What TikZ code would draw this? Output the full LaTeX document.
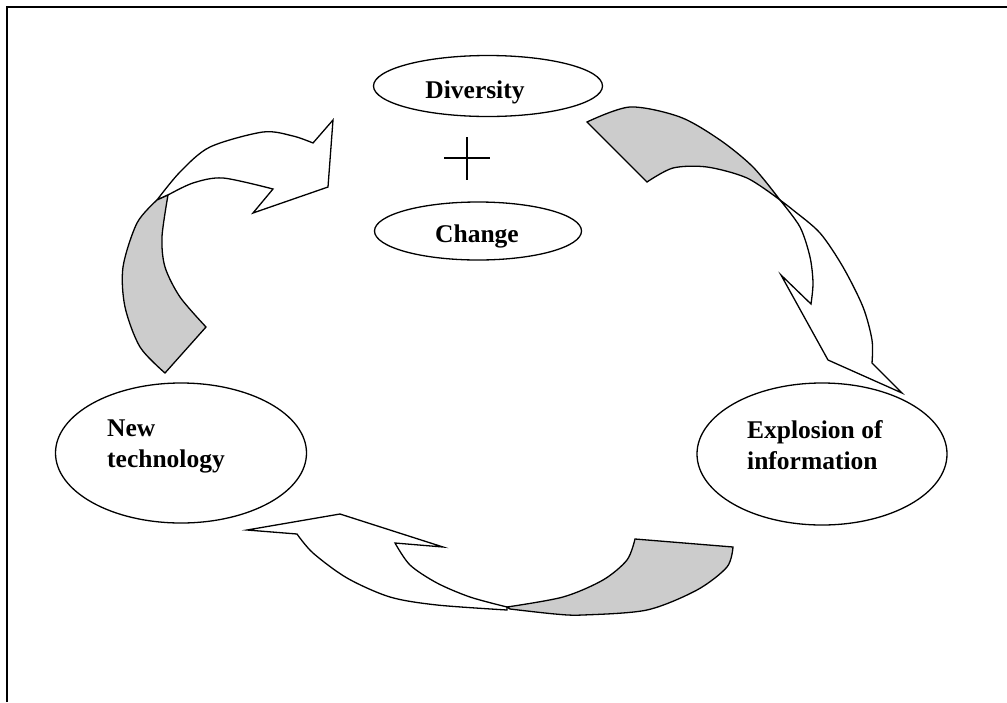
\documentclass[tikz,border=0pt]{standalone}
\usepackage{fontspec}
\setmainfont{Liberation Serif}
\usetikzlibrary{shapes.geometric}

\tikzset{
  bubble/.style={draw, ellipse, line width=1.3pt, inner sep=0pt},
  ribbon/.style={draw, line width=1.3pt, line join=miter, fill=white},
  backside/.style={ribbon, fill=black!20},
  word/.style={font=\bfseries\fontsize{25.5}{31}\selectfont, inner sep=0pt}
}

\begin{document}
\begin{tikzpicture}[x=1pt, y=-1pt]
\useasboundingbox (0,0) rectangle (1007,702);
\draw[line width=2pt] (7,702) -- (7,7) -- (1007,7);

\node[bubble, minimum width=229, minimum height=61] (diversity) at (488, 86) {};
\node[word, anchor=base] (diversitytext) at (475, 98) {Diversity};
\node[bubble, minimum width=207, minimum height=58] (change) at (478, 231) {};
\node[word, anchor=base] (changetext) at (477, 242) {Change};
\draw[line width=1.2pt] (444, 158) -- (490, 158);
\draw[line width=1.2pt] (467, 137) -- (467, 180);

\node[bubble, minimum width=251, minimum height=140] (newtech) at (181, 453) {};
\node[word, align=left, anchor=north west] (newtechtext) at (107, 420) {New\\technology};
\node[bubble, minimum width=250, minimum height=142] (explosion) at (822, 454) {};
\node[word, align=left, anchor=north west] (explosiontext) at (747, 420) {Explosion of\\information};

% left arrow
\draw[ribbon] plot [smooth] coordinates {(157,200) (180,172) (210,147) (263,132) (293,136) (313,143)}
  -- (333,120) -- (328,187) -- (253,213) -- (273,189)
  -- plot [smooth] coordinates {(273,189) (223,178) (193,183) (168,195)} -- cycle;
\draw[backside] plot [smooth] coordinates {(157,200) (137,223) (123,267) (125,307) (140,347) (165,373)}
  -- (206,327)
  -- plot [smooth] coordinates {(206,327) (180,297) (165,267) (162,237) (168,195)} -- cycle;

% right arrow
\draw[backside] plot [smooth] coordinates {(587,122) (630,107) (680,117) (720,140) (753,167) (780,200)}
  -- plot [smooth] coordinates {(780,200) (747,178) (707,167) (673,168) (647,182)} -- cycle;
\draw[ribbon] plot [smooth] coordinates {(780,200) (793,210) (820,233) (843,267) (863,307) (872,340) (872,363)}
  -- (902,393) -- (828,360) -- (781,275) -- (811,304)
  -- plot [smooth] coordinates {(811,304) (813,283) (810,257) (800,227) (780,200)} -- cycle;

% bottom arrow
\draw[ribbon] plot [smooth] coordinates {(507,610) (437,605) (390,597) (347,578) (313,553) (297,534)}
  -- (247,530) -- (340,514) -- (443,547) -- (395,543)
  -- plot [smooth] coordinates {(395,543) (410,565) (437,583) (470,597) (507,607)} -- cycle;
\draw[backside] (635,539) -- (733,547)
  -- plot [smooth] coordinates {(733,547) (727,567) (697,590) (647,610) (583,615) (555,614) (510,609)}
  -- plot [smooth] coordinates {(507,607) (563,597) (603,580) (627,560) (635,539)} -- cycle;

\end{tikzpicture}
\end{document}
